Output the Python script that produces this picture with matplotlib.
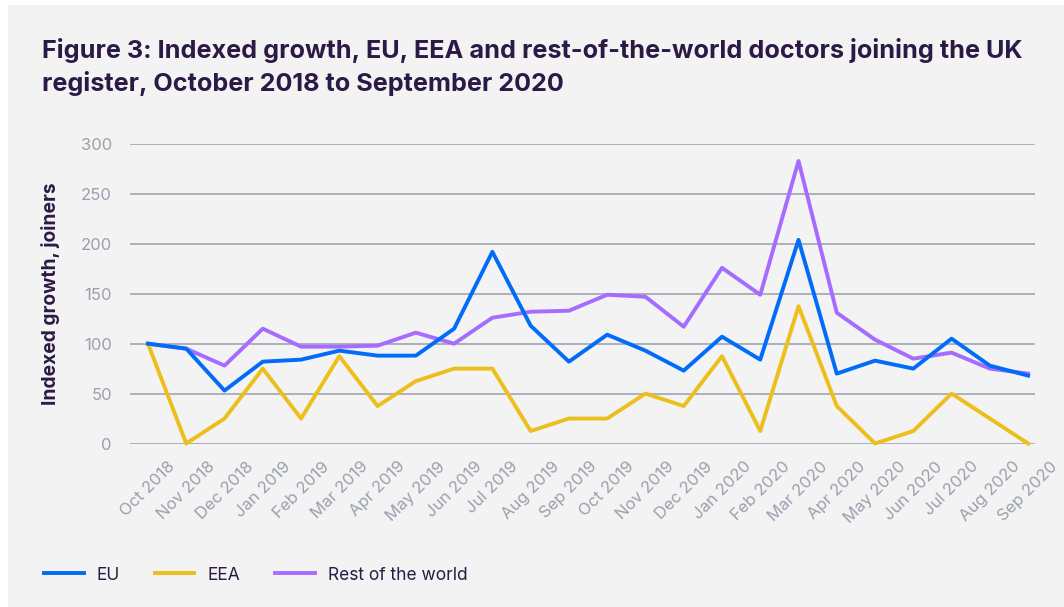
"""
Indexed growth of EU, EEA and rest-of-the-world doctors joining the UK register
"""

import numpy as np
import matplotlib
matplotlib.use('Agg')
import matplotlib.pyplot as plt
from matplotlib.patches import Rectangle

plt.rcParams['font.family'] = ['Inter', 'DejaVu Sans']

months = ['Oct 2018', 'Nov 2018', 'Dec 2018', 'Jan 2019', 'Feb 2019', 'Mar 2019',
          'Apr 2019', 'May 2019', 'Jun 2019', 'Jul 2019', 'Aug 2019', 'Sep 2019',
          'Oct 2019', 'Nov 2019', 'Dec 2019', 'Jan 2020', 'Feb 2020', 'Mar 2020',
          'Apr 2020', 'May 2020', 'Jun 2020', 'Jul 2020', 'Aug 2020', 'Sep 2020']

eu = [100, 95, 53, 82, 84, 93, 88, 88, 115, 192, 118, 82,
      109, 93, 73, 107, 84, 204, 70, 83, 75, 105, 78, 68]
eea = [100, 0, 25, 75, 25, 87.5, 37.5, 62.5, 75, 75, 12.5, 25,
       25, 50, 37.5, 87.5, 12.5, 137.5, 37.5, 0, 12.5, 50, 25, 0]
row = [100, 95, 78, 115, 97, 97, 98, 111, 100, 126, 132, 133,
       149, 147, 117, 176, 149, 283, 131, 104, 85, 91, 75, 70]

DARK = '#2b1a45'
GREY = '#9ba0ae'
BG = '#f3f3f3'

fig = plt.figure(figsize=(10.64, 6.07), dpi=100, facecolor='white')
fig.patches.append(Rectangle((8 / 1064, 0), 1, 1 - 5 / 607, transform=fig.transFigure,
                             facecolor=BG, edgecolor='none', zorder=-10))

ax = fig.add_axes([130 / 1064, 1 - 443.5 / 607, 905 / 1064, 299.5 / 607])
ax.set_facecolor('none')

x = np.arange(len(months))
lw = 2.8
ax.plot(x, row, color='#a66bff', lw=lw, label='Rest of the world', zorder=3, clip_on=False)
ax.plot(x, eea, color='#ecbf1c', lw=lw, label='EEA', zorder=3, clip_on=False)
ax.plot(x, eu, color='#006cf7', lw=lw, label='EU', zorder=4, clip_on=False)

ax.set_xlim(-0.47, 23.18)
ax.set_ylim(0, 300)
ax.set_yticks(range(0, 301, 50))
ax.yaxis.grid(True, color='#a6aab6', linewidth=1.3)
ax.set_axisbelow(True)
for s in ax.spines.values():
    s.set_visible(False)

ax.set_xticks(x)
ax.set_xticklabels(months, rotation=45, ha='center', va='top')
ax.tick_params(axis='x', length=0, pad=11, labelsize=12, labelcolor=GREY)
ax.tick_params(axis='y', length=0, pad=13, labelsize=12, labelcolor=GREY)

ylab = ax.set_ylabel('Indexed growth, joiners', fontsize=12, fontweight='bold', color=DARK)
ax.yaxis.set_label_coords(-70 / 905, 0.5)

title = fig.text(42 / 1064, 1 - 38 / 607,
                 'Figure 3: Indexed growth, EU, EEA and rest-of-the-world doctors joining the UK\n'
                 'register, October 2018 to September 2020',
                 fontsize=15, fontweight='bold', color=DARK, ha='left', va='top',
                 linespacing=1.4)

# scale title / y label so their lengths match the original layout
r = fig.canvas.get_renderer()
tw = title.get_window_extent(r).width
title.set_fontsize(15 * 978 / tw)
lh = ylab.get_window_extent(r).height
ylab.set_fontsize(12 * 222 / lh)

handles, labels = ax.get_legend_handles_labels()
order = [2, 1, 0]
leg = fig.legend([handles[i] for i in order], [labels[i] for i in order],
                 loc='center left', bbox_to_anchor=(28 / 1064, 1 - 575 / 607),
                 ncol=3, frameon=False, fontsize=12.5, handlelength=2.3,
                 handletextpad=0.75, columnspacing=2.0)
for t in leg.get_texts():
    t.set_color(DARK)

plt.savefig('out.png', dpi=100)
plt.close()
